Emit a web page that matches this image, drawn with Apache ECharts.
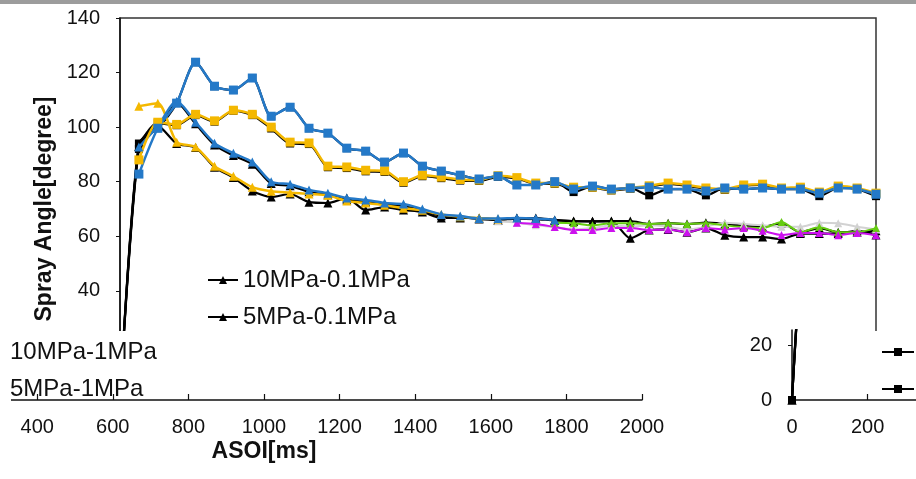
<!DOCTYPE html>
<html><head><meta charset="utf-8">
<script src="https://cdn.jsdelivr.net/npm/echarts/dist/echarts.min.js"></script>
<style>html,body{margin:0;padding:0;background:#fff}#c{width:916px;height:479px}</style>
</head><body><div id="c"></div>
<script>
// ASOI [ms]
const asoi = [0,50,100,150,200,250,300,350,400,450,500,550,600,650,700,750,800,850,900,950,1000,
  1050,1100,1150,1200,1250,1300,1350,1400,1450,1500,1550,1600,1650,1700,1750,1800,1850,1900,1950,2000];

// black (legend) series
const sq10Black = [0,94,99.6,108.8,123.8,115,113.6,118,104,107.3,99.6,97.8,92.3,91.2,87.2,90.5,85.7,83.9,82.4,81,82,
  78.8,78.8,80,76.2,78.4,77.3,77.7,75,77.3,77.3,75,77.7,77.3,77.7,77.3,77.3,74.7,77.7,77.3,74.7];
const sq5Black = [0,92,101.5,100.7,104.4,102,106,104.4,99.5,94,93.8,85.3,85,83.8,83.6,79.6,82,81.3,80.4,80.3,81.8,
  81.2,79.2,79.2,77.7,77.8,76.8,77.4,78.2,79.2,78.5,77.4,77,78.5,78.8,77.4,77.7,76,78.1,77.4,75.5];
const tri10Black = [0,93,100,109,101.2,93.5,89.6,86.4,79.3,78.5,76.3,75.2,73.4,72.6,71.6,71.2,69.4,67.5,67,66.3,66,
  66.5,66.3,65.8,65.6,65.5,65.6,65.6,64.5,64.8,64.5,65,64.5,63.8,63.4,64.8,61.5,63,61.5,61.5,62];
const tri5Black = [0,93,100.4,94,92.5,85.3,81.5,76.6,74.4,75.5,72.5,72.2,74,69.6,70.7,69.6,68.9,66.7,66.7,66.7,66,
  66.7,66.7,66,65.5,65.5,65.5,59.3,62.3,62.5,61.5,63,60.4,59.7,59.7,59,61,61,61,62,60.5];

// coloured overlay series
const sqBlue = [null,82.8,99.6,108.8,123.8,115,113.6,118,104,107.3,99.6,97.8,92.3,91.2,87.2,90.5,85.7,83.9,82.4,81,82,
  78.8,78.8,80,77.3,78.4,77.3,77.7,78,77.3,77.3,76.6,77.7,77.3,77.7,77.3,77.3,75.8,77.7,77.3,75.4];
const sqYellow = [null,88,101.8,101,104.7,102.3,106.2,104.7,100,94.5,94.2,85.7,85.4,84.2,84,80,82.4,81.7,80.8,80.6,82.2,
  81.5,79.5,79.5,78,78,77,77.7,78.5,79.5,78.8,77.7,77.3,78.8,79.1,77.7,78,76.2,78.4,77.7,75.8];
const triBlue = [null,92.7,100.4,109.5,101.8,94.1,90.4,87.2,80,79.1,77,75.8,74,73.3,72.2,71.8,70,68,67.4,66.5,66.5,
  66.7,66.5,66,null,null,null,null,null,null,null,null,null,null,null,null,null,null,null,null,null];
const triYellow = [null,107.7,108.8,94.5,92.7,85.7,82,78,76.5,76,75.5,75,72.9,72.2,71.4,70.3,69.5,68,67.2,66.7,66.3,
  null,null,null,null,null,null,null,null,null,null,null,null,null,null,null,null,null,null,null,null];
const tailMagenta = [null,null,null,null,null,null,null,null,null,null,null,null,null,null,null,null,null,null,null,null,null,
  65,64.5,63.4,62.3,62.3,63,63,62.3,62.5,61.5,63,62.5,63,62,60.5,61.2,61.2,60.4,61.2,60.4];
const tailGreen = [null,null,null,null,null,null,null,null,null,null,null,null,null,null,null,null,null,null,null,null,null,
  null,null,65,64.8,64,64.8,64.8,64.5,64.8,64.5,64.8,64,63.4,63,65.2,61.5,63.4,61.5,61.5,63];
const tailGray = [null,null,null,null,null,null,null,null,null,null,null,null,null,null,null,null,null,null,null,null,65.5,
  65,64,63.4,62.5,63,64,63.5,64,63.5,62.5,63.5,65,64.5,64,63.5,63.5,65,64.8,63.5,62.5];

const legendNames = ['10MPa-0.1MPa','5MPa-0.1MPa','10MPa-1MPa','5MPa-1MPa'];

const FONT = '"Liberation Sans", Arial, sans-serif';
function pts(vals){ return asoi.map((t,i)=> vals[i]==null ? null : [t, vals[i]]).filter(d=>d); }

function lineSeries(name, vals, color, symbol, width, size, grid, z){
  return {
    type:'line', name:name, data:pts(vals), xAxisIndex:grid, yAxisIndex:grid,
    smooth:0.25, symbol:symbol, symbolSize:size, showSymbol:true,
    lineStyle:{color:color, width:width}, itemStyle:{color:color},
    z:z, clip:true, animation:false, emphasis:{disabled:true}
  };
}

const series = [
  lineSeries('10MPa-0.1MPa', tri10Black, '#000', 'triangle', 2.2, 9, 0, 2),
  lineSeries('5MPa-0.1MPa', tri5Black, '#000', 'triangle', 2.2, 9, 0, 2),
  lineSeries('10MPa-1MPa', sq10Black, '#000', 'rect', 2.2, 8, 0, 2),
  lineSeries('5MPa-1MPa', sq5Black, '#000', 'rect', 2.2, 8, 0, 2),
  lineSeries('g', tailGray, '#d2d2d2', 'triangle', 2, 8, 0, 3),
  lineSeries('gr', tailGreen, '#66cc11', 'triangle', 2, 8, 0, 3),
  lineSeries('m', tailMagenta, '#cc11ee', 'triangle', 2, 8, 0, 3),
  lineSeries('yt', triYellow, '#f4b800', 'triangle', 2.5, 9, 0, 3),
  lineSeries('bt', triBlue, '#2479c8', 'triangle', 2.5, 9, 0, 3),
  lineSeries('ys', sqYellow, '#f4b800', 'rect', 2.5, 9, 0, 3),
  lineSeries('bs', sqBlue, '#2479c8', 'rect', 2.5, 9, 0, 3),
  // strip copy showing the origin of the chart
  lineSeries('10MPa-0.1MPa', tri10Black, '#000', 'triangle', 2.2, 9, 2, 110),
  lineSeries('5MPa-0.1MPa', tri5Black, '#000', 'triangle', 2.2, 9, 2, 110),
  lineSeries('10MPa-1MPa', sq10Black, '#000', 'rect', 2.2, 8, 2, 110),
  lineSeries('5MPa-1MPa', sq5Black, '#000', 'rect', 2.2, 8, 2, 110)
];

const plain = v => String(v);
const labelStyle = {fontSize:20, color:'#111', fontFamily:FONT, formatter:plain};
const stripMax = 70/(382/140);

const option = {
  backgroundColor:'#fff',
  animation:false,
  grid:[
    {left:120, top:18, width:756, height:382, show:true, borderColor:'#333', borderWidth:1.5, backgroundColor:'transparent', outerBoundsMode:'none', containLabel:false},
    {left:-114, top:330, width:756, height:70, z:110, outerBoundsMode:'none', containLabel:false},
    {left:792, top:330, width:756, height:70, z:110, outerBoundsMode:'none', containLabel:false}
  ],
  xAxis:[
    {gridIndex:0, type:'value', min:0, max:2000, interval:200, show:false},
    {gridIndex:1, type:'value', min:0, max:2000, interval:200, z:110,
      axisLine:{lineStyle:{color:'#111', width:1.5}}, axisTick:{inside:true, length:6, lineStyle:{color:'#111', width:1.2}},
      axisLabel:Object.assign({margin:17, hideOverlap:false}, labelStyle), splitLine:{show:false}},
    {gridIndex:2, type:'value', min:0, max:2000, interval:200, z:110,
      axisLine:{lineStyle:{color:'#111', width:1.5}}, axisTick:{inside:true, length:6, lineStyle:{color:'#111', width:1.2}},
      axisLabel:Object.assign({margin:17, hideOverlap:false}, labelStyle), splitLine:{show:false}}
  ],
  yAxis:[
    {gridIndex:0, type:'value', min:0, max:140, interval:20,
      name:'Spray Angle[degree]', nameLocation:'middle', nameGap:62,
      nameTextStyle:{fontSize:23, fontWeight:'bold', color:'#111', fontFamily:FONT},
      axisLine:{show:true, lineStyle:{color:'#111', width:1.5}}, axisTick:{show:true, length:4, lineStyle:{color:'#111'}},
      axisLabel:Object.assign({margin:20}, labelStyle), splitLine:{show:false}},
    {gridIndex:1, type:'value', min:0, max:stripMax, show:false},
    {gridIndex:2, type:'value', min:0, max:stripMax, interval:20, z:110,
      axisLine:{show:true, lineStyle:{color:'#111', width:1.5}}, axisTick:{show:true, length:4, lineStyle:{color:'#111'}},
      axisLabel:Object.assign({margin:20}, labelStyle), splitLine:{show:false}}
  ],
  legend:[
    {data:legendNames, orient:'vertical', left:202, top:263, itemWidth:30, itemHeight:10, itemGap:13,
      selectedMode:false, textStyle:{fontSize:24, color:'#111', fontFamily:FONT, lineHeight:24}},
    {data:['10MPa-1MPa','5MPa-1MPa'], orient:'vertical', left:-30, top:335, icon:'none', itemWidth:30, itemHeight:10, itemGap:13,
      selectedMode:false, z:110, textStyle:{fontSize:24, color:'#111', fontFamily:FONT, lineHeight:24}},
    {data:['10MPa-1MPa','5MPa-1MPa'], orient:'vertical', left:876, top:335, itemWidth:32, itemHeight:10, itemGap:13,
      selectedMode:false, z:110, textStyle:{fontSize:24, color:'#111', fontFamily:FONT, lineHeight:24}}
  ],
  graphic:{elements:[
    {type:'rect', z:100, silent:true, shape:{x:0, y:331, width:916, height:148}, style:{fill:'#fff'}},
    {type:'rect', z:120, silent:true, shape:{x:0, y:397, width:11, height:6}, style:{fill:'#fff'}},
    {type:'rect', z:120, silent:true, shape:{x:0, y:0, width:916, height:4}, style:{fill:'#9c9c9c'}},
    {type:'text', z:120, x:264, y:452, style:{text:'ASOI[ms]', fill:'#111', font:'bold 23px "Liberation Sans", Arial, sans-serif', textAlign:'center', textVerticalAlign:'middle'}}
  ]},
  series:series
};

const chart = echarts.init(document.getElementById('c'));
chart.setOption(option);
</script>
</body></html>
